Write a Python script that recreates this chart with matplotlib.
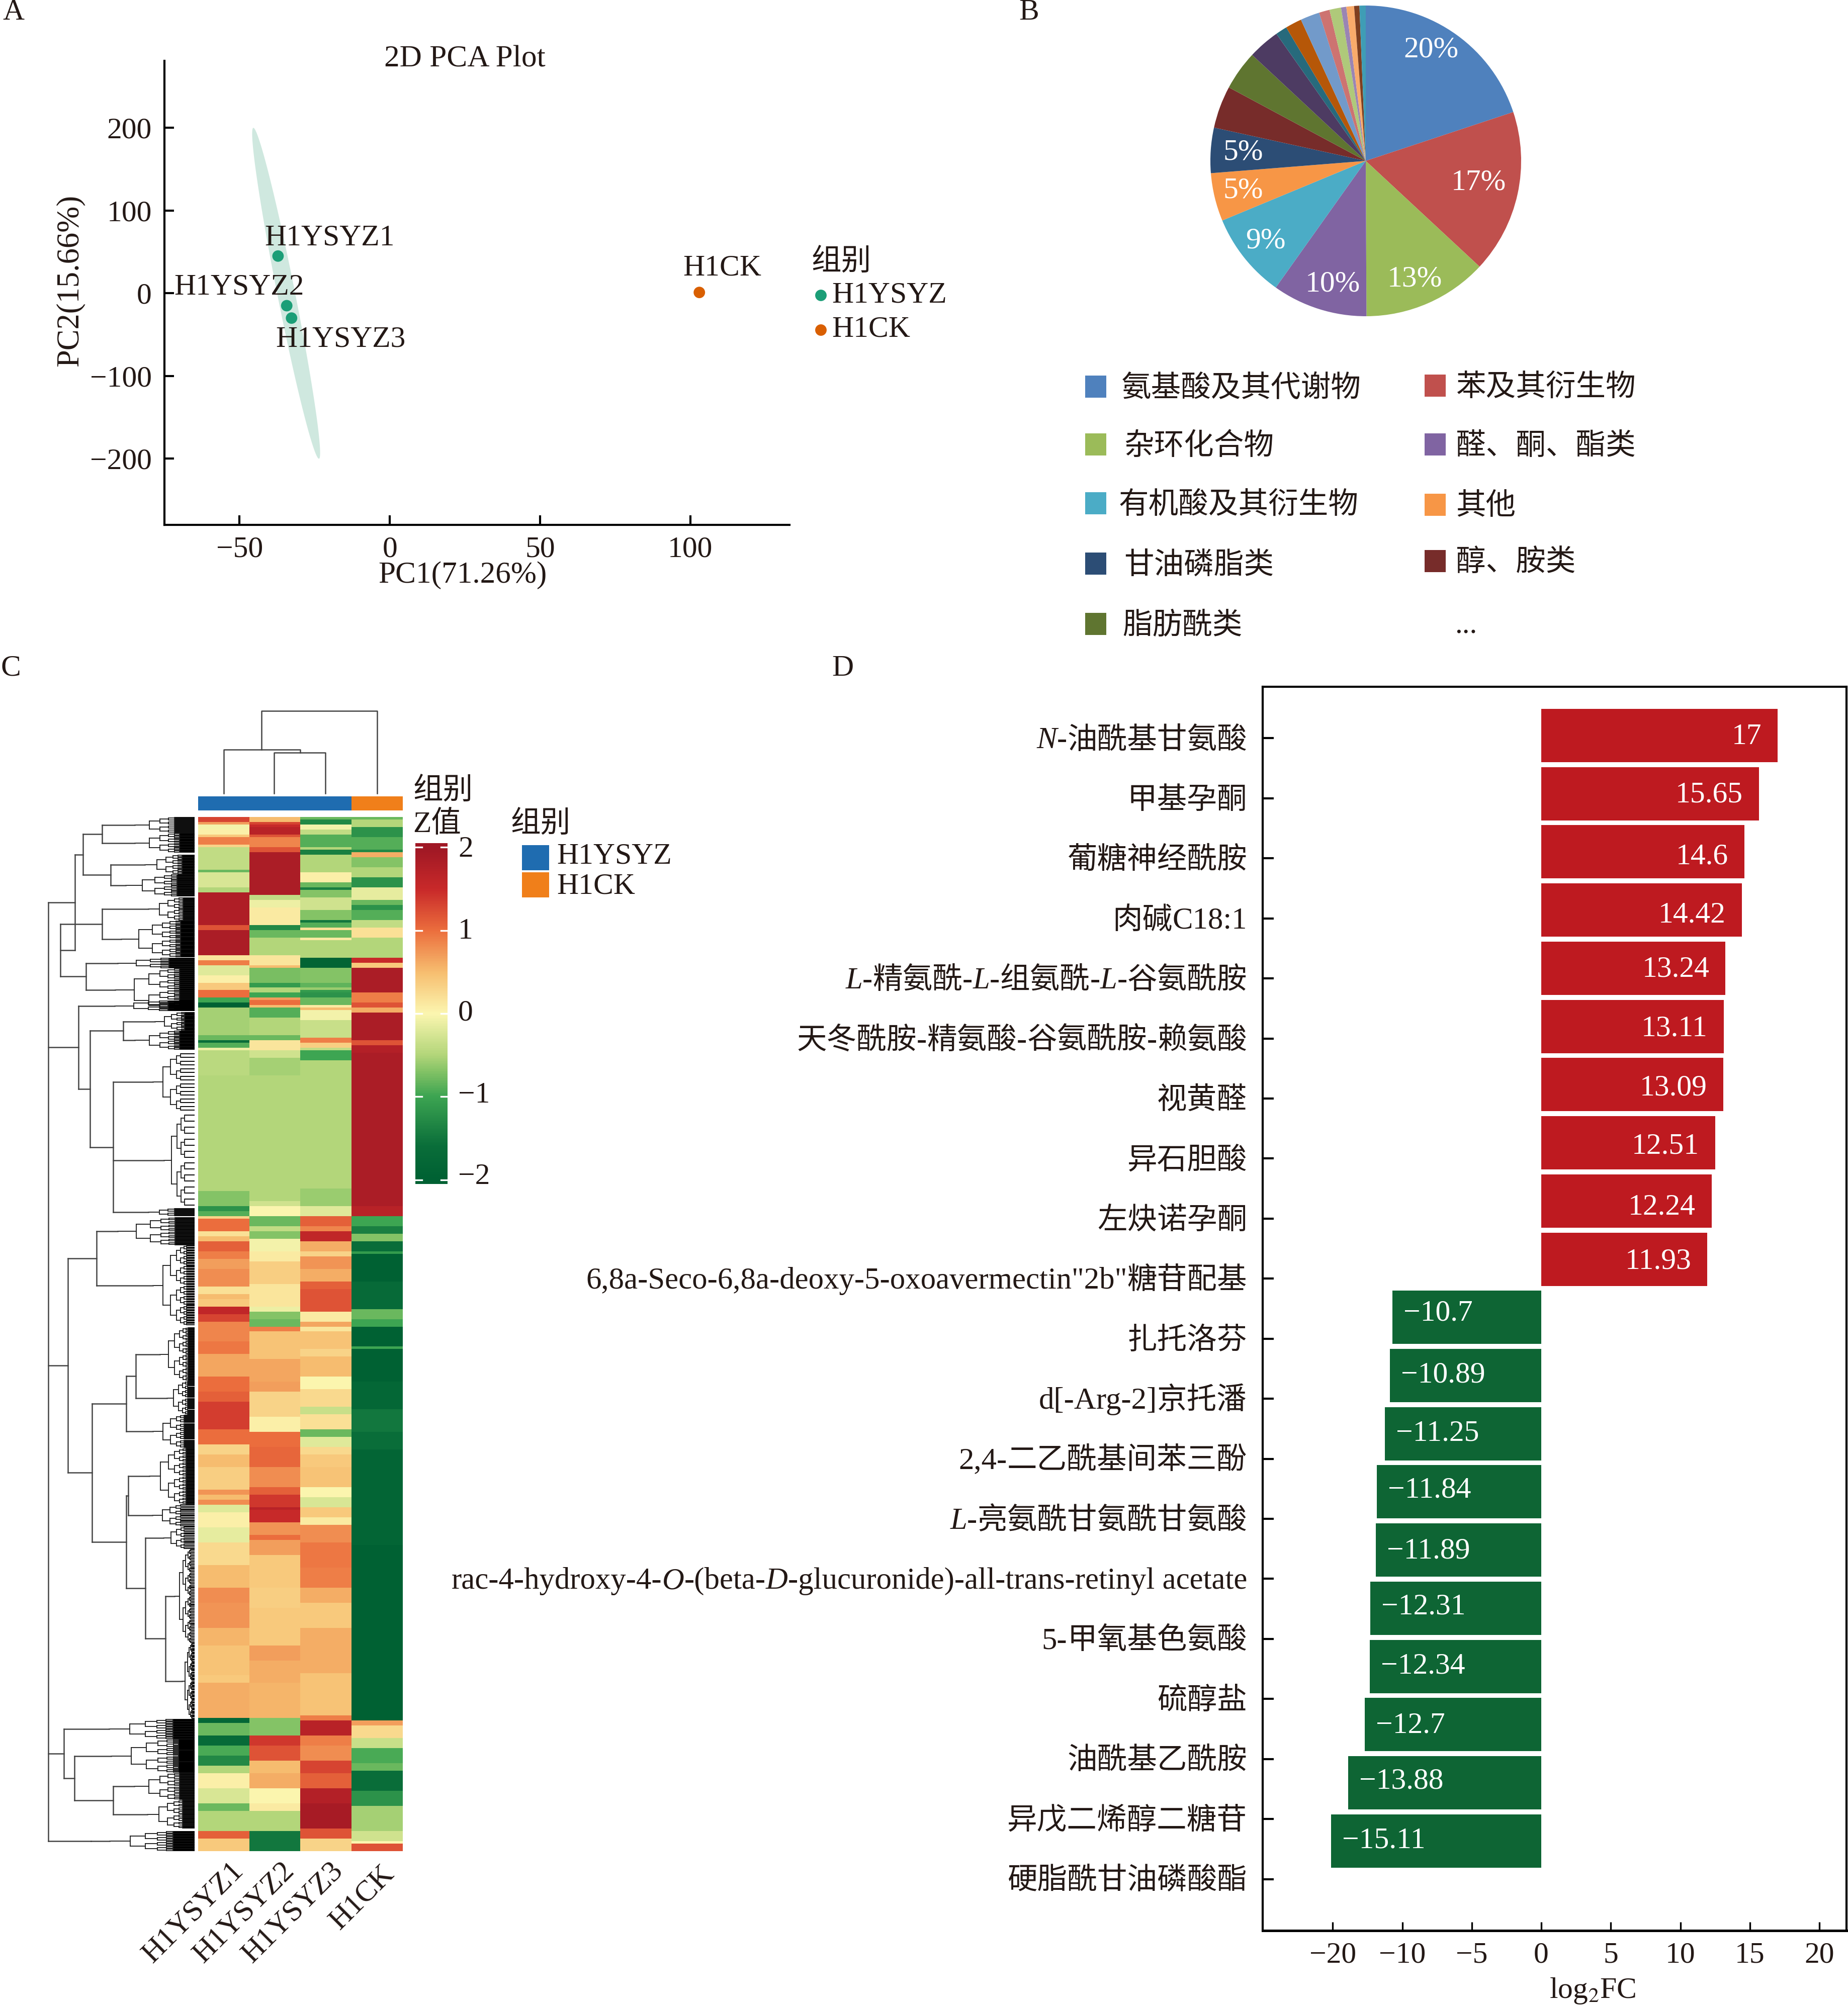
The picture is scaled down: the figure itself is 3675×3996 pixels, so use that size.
import re
import numpy as np
import matplotlib
matplotlib.use('Agg')
import matplotlib.pyplot as plt
from matplotlib.colors import LinearSegmentedColormap, ListedColormap
from matplotlib.patches import Polygon, Rectangle

plt.rcParams['font.family'] = ['Liberation Serif', 'Noto Sans CJK SC']
plt.rcParams['mathtext.fontset'] = 'stix'
plt.rcParams['axes.unicode_minus'] = True

W, H, DPI = 3675, 3996, 300
INK = '#231815'
FS = 14.3

# ---------- Panel A data
pca_names = ['H1YSYZ1', 'H1YSYZ2', 'H1YSYZ3', 'H1CK']
pca_x = [-37.2, -34.3, -32.7, 103]
pca_y = [45, -15, -30, 1]
pca_groups = ['H1YSYZ', 'H1YSYZ', 'H1YSYZ', 'H1CK']
pca_ell_center = (-34.5, 0)
pca_ell_major = (-10.9, 200)
pca_ell_minor = (3.0, 0)

# ---------- Panel B data
pie_values = [19.9, 17, 13, 9.9, 8.9, 5, 4.7, 4.4, 4.1, 3.3, 1.2, 1.7, 2, 1.1, 1.2, .55, .8, .55, .65]
pie_colors = ['#4F81BD', '#C0504D', '#9BBB59', '#8064A2', '#4BACC6', '#F79646', '#2C4D75', '#772C2A',
              '#5F7530', '#4D3B62', '#276A7C', '#B65708', '#729ACA', '#CD7371', '#AFC97A', '#9A85B4',
              '#F9AB6B', '#7F3F20', '#3F9DB5']
pie_texts = ['20%', '17%', '13%', '10%', '9%', '5%', '5%']
legend_b = ['氨基酸及其代谢物', '苯及其衍生物', '杂环化合物', '醛、酮、酯类', '有机酸及其衍生物',
            '其他', '甘油磷脂类', '醇、胺类', '脂肪酰类']

# ---------- Panel C data: (rows, Z) runs for each sample, from top to bottom
heat_samples = ['H1YSYZ1', 'H1YSYZ2', 'H1YSYZ3', 'H1CK']
heat_s1 = [(2, 1.3), (1, .7), (2, -.05), (2, .05), (1, .4), (3, .9), (1, .3), (9, -.4), (1, -.8), (6, -.25),
           (2, -.5), (13, 1.8), (2, 1.2), (10, 1.85), (2, .15), (2, .9), (4, -.2), (3, .05), (3, .4), (3, 1.0),
           (2, -1.0), (2, -2), (11, -.55), (2, -.8), (1, -1.6), (2, -.9), (1, -.1), (10, -.45),
           (46, -.5), (6, -.7),
           (2, -1.2), (2, -.9), (1, .3), (5, 1.0), (2, .2), (2, .5), (4, 1.1), (3, .9), (4, .7), (7, .8),
           (3, .2), (2, .5), (3, .4), (3, 1.6), (3, 1.3), (8, .85), (5, .95), (9, .65), (6, 1.0), (4, 1.1),
           (11, 1.35), (6, 1.0), (4, .3), (5, .5),
           (9, .35), (2, .75), (2, .5), (2, .8), (3, -.2), (6, .05), (6, -.15), (9, .25), (9, .5), (6, .8),
           (10, .75), (7, .55), (12, .45), (3, .4), (14, .6), (2, -1.8), (5, -.8), (4, -1.7), (4, -.95),
           (4, -1.3), (3, -.5), (6, .05), (6, -.25), (3, -.8), (8, -.5), (3, 1.1), (5, .4)]
heat_s2 = [(2, .5), (1, 1.3), (1, 1.5), (3, 1.7), (1, 1.2), (4, .85), (2, 1.2), (17, 1.85), (2, -.4), (3, -.1),
           (7, .1), (2, -1.3), (3, -.8), (7, -.5), (4, .15), (1, .5), (6, -.75), (2, -1.1), (2, -.5), (2, -1.0),
           (1, .7), (2, 1.0), (1, .5), (4, -.9), (7, -.5), (2, -.8), (4, .15), (3, -.3), (7, -.55),
           (50, -.5), (2, -.3),
           (4, .0), (4, -.8), (2, -.4), (3, -.7), (5, -.05), (4, .1), (9, .35), (9, .15), (2, -.1), (3, -.7),
           (3, -.8), (2, .9), (11, .45), (9, .65), (4, .7), (10, .3), (6, .05), (6, 1.0), (8, 1.05),
           (8, .8), (3, 1.1), (5, 1.4), (1, 1.7), (5, 1.5), (5, .75), (2, 1.0), (6, .7), (13, .4), (8, .35),
           (15, .4), (6, .7), (9, .6), (14, .55), (7, -.7), (4, 1.4), (6, 1.2), (5, .5), (6, .6), (6, .0),
           (3, .1), (8, -.5), (8, -1.5)]
heat_s3 = [(1, -.8), (2, -1.3), (2, -.05), (2, -.4), (5, -.9), (1, -.5), (2, -1.4), (7, -.5), (4, .05), (2, -.8),
           (1, -1.4), (3, -.7), (5, -.3), (4, -.7), (1, -1.5), (2, -.9), (1, .2), (3, -.8), (1, .1), (7, -.5),
           (4, -1.9), (6, -.7), (2, -.85), (1, -.6), (1, -1.1), (2, -1.2), (3, -.8), (1, .1), (1, .5), (4, -.05),
           (7, -.35), (2, .9), (2, .35), (1, -.4), (4, -1.0), (6, -.5),
           (45, -.5), (7, -.6),
           (4, -.2), (4, 1.1), (2, .85), (4, 1.6), (4, .6), (2, .3), (5, .75), (5, .6), (3, 1.1), (9, 1.2),
           (4, .1), (2, .65), (2, .15), (7, .45), (3, .3), (8, .5), (5, .0), (7, .25), (3, -.35), (6, .2),
           (3, -.8), (4, -.2), (3, .25), (5, .4),
           (8, .45), (4, .0), (4, -.25), (4, .4), (3, .1), (7, .8), (6, .95), (4, .95), (8, .9), (6, .6),
           (10, .4), (4, .6), (14, .6), (17, .45), (2, .9), (6, 1.7), (4, .9), (6, .8), (5, 1.3), (6, 1.1),
           (6, 1.75), (10, 1.9), (4, 1.2), (5, .3)]
heat_s4 = [(1, -.8), (3, -.5), (4, -1.2), (5, -.9), (1, -1.3), (2, .6), (4, -.7), (4, -.5), (4, -1.2), (5, -.15),
           (2, -.8), (2, -1.2), (4, -.9), (3, -.4), (4, .2), (8, -.5), (2, 1.5), (2, .4), (10, 1.85), (4, .9),
           (2, 1.2), (2, .6), (11, 1.85), (2, 1.2), (3, 1.75), (9, 1.85),
           (52, 1.85),
           (4, 1.7), (4, -1.0), (3, -1.4), (3, -.7), (4, -1.6), (1, -1.1), (11, -2), (11, -1.7), (4, -.8), (3, -1.0),
           (8, -2), (1, -1.0), (13, -2), (11, -1.8), (9, -1.5), (7, -1.6), (7, -1.85),
           (18, -1.85), (13, -1.85), (70, -2), (2, .7), (5, .25), (4, -.35), (6, -.95), (3, -.8), (8, -1.6),
           (6, -1.2), (10, -.55), (4, -.3), (1, .0), (3, 1.2)]
heat_ticks = [2, 1, 0, -1, -2]

# Left dendrogram: (join distance, children...) or leaf (join distance, first row edge, last row edge, comb spacing)
row_tree = (96,
    (149, (165, (203, (268, 1625, 1657, 2), (268, 1657, 1696, 2)),
                (220, (288, 1700, 1739, 2), (250, 1739, 1783, 2))),
          (120, (203, (295, 1785, 1831, 2), (241, 1831, 1904, 2)),
                (171, (234, 1905, 1926, 2), (229, 1926, 2011, 2)))),
    (156, (228, 1990, 2011, 2),
          (179, (245, (308, 2013, 2050, 2), (268, 2050, 2088, 2)),
                (225, (304, 2092, 2212, 10), (326, 2212, 2403, 12), (295, 2403, 2419, 2)))),
    (135, (192, (234, 2421, 2477, 2), (304, 2477, 2636, 3)),
          (183, (251, (270, (318, 2640, 2747, 3), (332, 2747, 2814, 3)), (304, 2814, 2880, 3)),
                (251, (255, (297, 2880, 2992, 3), (303, 2992, 3036, 3)),
                      (289, (325, 3036, 3081, 3),
                            (329, (347, 3081, 3268, 4), (362, 3268, 3419, 4)))))),
    (127, (217, 3419, 3459, 2),
          (148, (221, 3459, 3526, 2),
                (225, (267, 3526, 3580, 2), (293, 3580, 3637, 2)))),
    (181, (218, 3642, 3682, 1.6)))

# ---------- Panel D data
met_names = [[('N', 1), ('-油酰基甘氨酸', 0)], [('甲基孕酮', 0)], [('葡糖神经酰胺', 0)], [('肉碱C18:1', 0)],
             [('L', 1), ('-精氨酰-', 0), ('L', 1), ('-组氨酰-', 0), ('L', 1), ('-谷氨酰胺', 0)],
             [('天冬酰胺-精氨酸-谷氨酰胺-赖氨酸', 0)], [('视黄醛', 0)], [('异石胆酸', 0)], [('左炔诺孕酮', 0)],
             [('6,8a-Seco-6,8a-deoxy-5-oxoavermectin"2b"糖苷配基', 0)], [('扎托洛芬', 0)], [('d[-Arg-2]京托潘', 0)],
             [('2,4-二乙酰基间苯三酚', 0)], [('L', 1), ('-亮氨酰甘氨酰甘氨酸', 0)],
             [('rac-4-hydroxy-4-', 0), ('O', 1), ('-(beta-', 0), ('D', 1), ('-glucuronide)-all-trans-retinyl acetate', 0)],
             [('5-甲氧基色氨酸', 0)], [('硫醇盐', 0)], [('油酰基乙酰胺', 0)], [('异戊二烯醇二糖苷', 0)], [('硬脂酰甘油磷酸酯', 0)]]
met_fc = [17, 15.65, 14.6, 14.42, 13.24, 13.11, 13.09, 12.51, 12.24, 11.93,
          -10.7, -10.89, -11.25, -11.84, -11.89, -12.31, -12.34, -12.7, -13.88, -15.11]
fc_label_nudge = [1, 1, 4, 4, 1, 2, 3, 3, 5, 2, -3, 0, 0, -1, 1, -1, 0, 1, -1, 0]
fc_tick_pos = [-15, -10, -5, 0, 5, 10, 15, 20]
fc_tick_lab = ['−20', '−10', '−5', '0', '5', '10', '15', '20']


def panel(x0, y0, x1, y1):
    return fig.add_axes([x0 / W, 1 - y1 / H, (x1 - x0) / W, (y1 - y0) / H])


fig = plt.figure(figsize=(W / DPI, H / DPI), dpi=DPI, facecolor='white')

# overlay in picture pixels, for free text and hand-placed keys
ov = fig.add_axes([0, 0, 1, 1], zorder=5)
ov.set_xlim(0, W)
ov.set_ylim(H, 0)
ov.axis('off')
ov.patch.set_alpha(0)


def T(x, y, s, ha='left', va='center', color=INK, size=FS, **k):
    if va == 'center':
        y = y + 5
    return ov.text(x, y, s, ha=ha, va=va, color=color, fontsize=size, **k)


for x, y, s in [(5, 20, 'A'), (2026, 20, 'B'), (2, 1325, 'C'), (1654, 1325, 'D')]:
    T(x, y, s)

# ---------- A
axA = panel(327, 121, 1570, 1044)
axA.set_xlim(-75, 133)
axA.set_ylim(-280, 281)
t = np.linspace(0, 2 * np.pi, 200)
ex = pca_ell_center[0] + pca_ell_major[0] * np.cos(t) + pca_ell_minor[0] * np.sin(t)
ey = pca_ell_center[1] + pca_ell_major[1] * np.cos(t) + pca_ell_minor[1] * np.sin(t)
axA.add_patch(Polygon(np.c_[ex, ey], closed=True, facecolor='#CFE8DF', edgecolor='none'))
group_color = {'H1YSYZ': '#1B9E77', 'H1CK': '#D95F02'}
axA.scatter(pca_x, pca_y, s=30, c=[group_color[g] for g in pca_groups], linewidths=0, zorder=3)
axA.set_xticks([-50, 0, 50, 100])
axA.set_xticklabels(['−50', '0', '50', '100'], fontsize=FS, color=INK)
axA.set_yticks([-200, -100, 0, 100, 200])
axA.set_yticklabels(['−200', '−100', '0', '100', '200'], fontsize=FS, color=INK)
axA.tick_params(axis='x', direction='in', length=4.5, width=1, pad=5.5)
axA.tick_params(axis='y', direction='in', length=4.5, width=1, pad=6)
for s in ['top', 'right']:
    axA.spines[s].set_visible(False)
for s in ['left', 'bottom']:
    axA.spines[s].set_linewidth(1)
T(924, 113, '2D PCA Plot', ha='center', size=14.7)
T(920, 1139, 'PC1(71.26%)', ha='center', size=14.7)
T(140, 553, 'PC2(15.66%)', ha='center', rotation=90, size=15)
for (x, y), s in zip([(655, 468), (475, 567), (677, 671), (1436, 529)], pca_names):
    T(x, y, s, ha='center')
T(1614, 517, '组别')
for y, g in [(587, 'H1YSYZ'), (656, 'H1CK')]:
    ov.scatter([1632], [y], s=30, c=group_color[g], linewidths=0)
    T(1654, y - 5, g)

# ---------- B
axB = panel(2716 - 309, 320 - 309, 2716 + 309, 320 + 309)
axB.pie(pie_values, colors=pie_colors, startangle=90, counterclock=False, radius=1,
        wedgeprops=dict(linewidth=0))
axB.set_xlim(-1, 1)
axB.set_ylim(-1, 1)
for (x, y), s in zip([(2846, 94), (2940, 359), (2813, 550), (2650, 561), (2517, 474), (2472, 298), (2472, 375)], pie_texts):
    T(x, y, s, ha='center', color='white')
bx = [2158, 2833]
by = [[769, 884, 1001, 1121, 1241], [767, 884, 1004, 1116]]
tx = [[2230, 2235, 2225, 2235, 2232], [2895, 2895, 2895, 2895]]
for i, s in enumerate(legend_b):
    c = i % 2
    r = i // 2
    ov.add_patch(Rectangle((bx[c], by[c][r] - 22), 42, 44, facecolor=pie_colors[i], edgecolor='none'))
    T(tx[c][r], by[c][r], s)
T(2915, 1240, '...', ha='center')

# ---------- C
cmap = LinearSegmentedColormap.from_list('z', [
    (0.0, '#006133'), (0.10, '#0A6E3A'), (0.25, '#3DA552'), (0.325, '#84C366'), (0.375, '#B3D67A'),
    (0.5, '#FCF6B0'), (0.625, '#F7BE70'), (0.75, '#EC6F3E'), (0.875, '#C92A2A'), (1.0, '#A01825')])
cols = []
for runs in (heat_s1, heat_s2, heat_s3, heat_s4):
    cols.append(np.repeat([z for _, z in runs], [n for n, _ in runs]))
nrows = min(len(c) for c in cols)
Z = np.c_[[c[:nrows] for c in cols]].T
axH = panel(394, 1625, 801, 3682)
axH.imshow(Z, aspect='auto', cmap=cmap, vmin=-2, vmax=2, interpolation='nearest')
axH.set_xticks([])
axH.set_yticks([])
for s in axH.spines.values():
    s.set_visible(False)

axAnn = panel(394, 1584, 801, 1612)
axAnn.imshow([[0, 0, 0, 1]], aspect='auto', cmap=ListedColormap(['#1F6CB0', '#F07F1A']))
axAnn.axis('off')

# colour bar
axCb = panel(826, 1677, 890, 2355)
grad = np.linspace(2.05, -2.05, 400)[:, None]
axCb.imshow(grad, aspect='auto', cmap=cmap, vmin=-2, vmax=2, extent=[0, 1, -2.05, 2.05])
axCb.set_xticks([])
axCb.set_yticks([])
for s in axCb.spines.values():
    s.set_visible(False)
for v in heat_ticks:
    axCb.plot([0, .2], [v, v], color='white', lw=.8)
    axCb.plot([.8, 1], [v, v], color='white', lw=.8)
axCb.set_xlim(0, 1)
axCb.set_ylim(-2.05, 2.05)
for v, y in zip(heat_ticks, [1685, 1848, 2010, 2174, 2336]):
    T(911, y, str(v).replace('-', '−'))
T(821, 1569, '组别')
T(821, 1635, 'Z值')
T(1015, 1635, '组别')
for y0, c, s, y in [(1681, '#1F6CB0', 'H1YSYZ', 1699), (1735, '#F07F1A', 'H1CK', 1759)]:
    ov.add_patch(Rectangle((1038, y0), 54, 50, facecolor=c, edgecolor='none'))
    T(1107, y, s)

# column dendrogram
DC = '#444444'
for xs, ys in [([445, 445, 597, 597], [1578, 1491, 1491, 1497]),
               ([545, 545, 647, 647], [1578, 1497, 1497, 1578]),
               ([520, 520, 750, 750], [1491, 1414, 1414, 1578])]:
    ov.plot(xs, ys, color=DC, lw=.6)

# row dendrogram
XEND = 387


def comb(x, y0, y1, step):
    if y1 - y0 <= step:
        m = (y0 + y1) / 2
        ov.plot([x, XEND], [m, m], color='black', lw=.45, solid_capstyle='butt')
        return m
    xn = x + (XEND - x) * .24
    a = comb(xn, y0, (y0 + y1) / 2, step)
    b = comb(xn, (y0 + y1) / 2, y1, step)
    ov.plot([xn, xn], [a, b], color='#222222', lw=.45)
    m = (a + b) / 2
    ov.plot([x, xn], [m, m], color='#222222', lw=.45)
    return m


def draw(node):
    if len(node) == 4 and not isinstance(node[1], tuple):
        return comb(node[0], node[1], node[2], node[3]), node[0]
    x = node[0]
    res = [draw(c) for c in node[1:]]
    ys = [r[0] for r in res]
    for yy, xc in res:
        ov.plot([x, xc], [yy, yy], color=DC, lw=.6)
    ov.plot([x, x], [min(ys), max(ys)], color=DC, lw=.6)
    return (min(ys) + max(ys)) / 2, x


draw(row_tree)

for (x, y), s in zip([(457, 3694), (558, 3694), (655, 3694), (756, 3700)], heat_samples):
    T(x, y, s, ha='right', va='top', rotation=45, rotation_mode='anchor')

# ---------- D
axD = panel(2511, 1366, 3672, 3840)
y = np.arange(len(met_fc))
axD.barh(y, met_fc, height=.916, color=['#BE1A20' if v > 0 else '#0E6534' for v in met_fc], linewidth=0)
axD.set_xlim(-20.04, 21.95)
axD.set_ylim(20.54, -.838)
for yy, v, nd in zip(y, met_fc, fc_label_nudge):
    if v > 0:
        axD.text(v - 1.15, yy + .022 * nd, f'{v:g}', color='white', ha='right', va='center', fontsize=FS)
    else:
        axD.text(v + .8, yy + .022 * nd, f'{v:g}'.replace('-', '−'), color='white', ha='left', va='center', fontsize=FS)
axD.set_xticks(fc_tick_pos)
axD.set_xticklabels(fc_tick_lab, fontsize=FS, color=INK)
axD.set_yticks(.0475 + 1.032 * y)
axD.set_yticklabels([])
axD.tick_params(axis='y', direction='in', length=5.3, width=1)
axD.tick_params(axis='x', direction='in', length=4, width=.8, pad=5.4)
for s in axD.spines.values():
    s.set_linewidth(1)
axD.spines['bottom'].set_linewidth(1.2)
T(3167, 3955, r'log$_2$FC', ha='center')

rend = fig.canvas.get_renderer()
for i, parts in enumerate(met_names):
    yb = 1468.5 + 119.4 * i + 20
    xr = 2480
    for seg, it in reversed(parts):
        for piece in reversed(re.findall(r'[\x00-\x7f]+|[^\x00-\x7f]+', seg)):
            size = 14.6 if piece[0] < '\x80' else FS
            tx_ = T(xr, yb, piece, ha='right', va='baseline', size=size, style='italic' if it else 'normal')
            xr -= tx_.get_window_extent(rend).width

fig.savefig('out.png', dpi=DPI, facecolor='white')
